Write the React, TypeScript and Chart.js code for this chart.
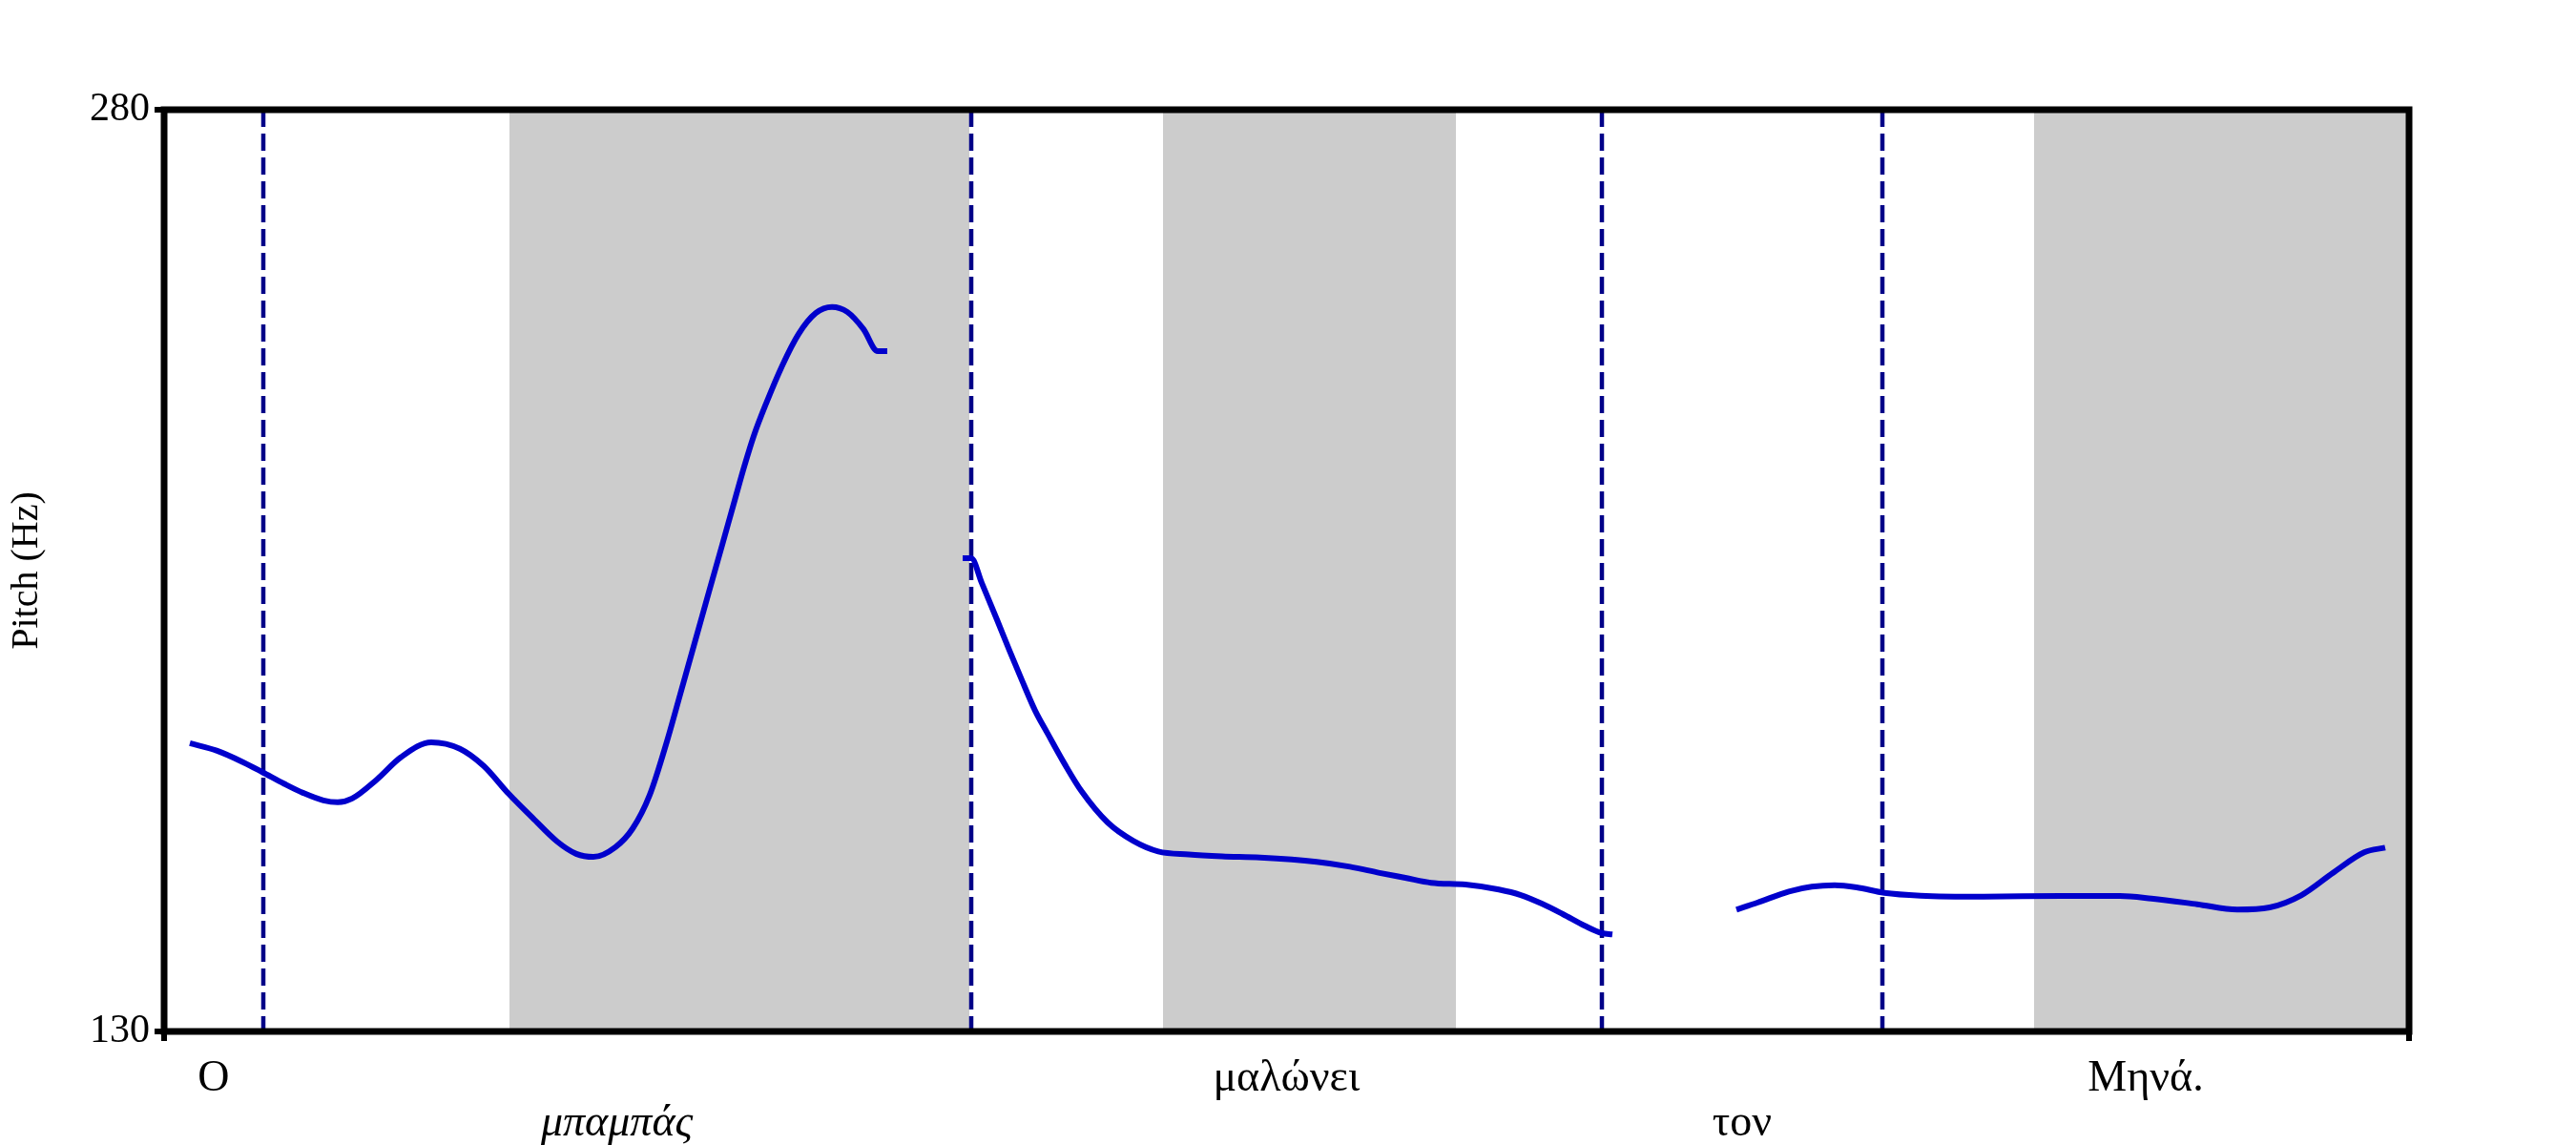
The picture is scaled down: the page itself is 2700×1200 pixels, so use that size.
import React, { useEffect, useRef } from "react";
import { Chart, registerables } from "chart.js";

Chart.register(...registerables);

// ---- data (time in seconds, pitch in Hz) ----
const timeMin = 0;
const timeMax = 2.353;
const pitchMin = 130;
const pitchMax = 280;
const yTickValues = [130, 280];

const seg1Times = [0.027, 0.055, 0.083, 0.103, 0.126, 0.146, 0.167, 0.182, 0.197, 0.223, 0.248, 0.28, 0.31, 0.335, 0.361, 0.386, 0.412, 0.432, 0.45, 0.473, 0.491, 0.509, 0.527, 0.541, 0.558, 0.571, 0.585, 0.598, 0.608, 0.618, 0.631, 0.648, 0.665, 0.683, 0.7, 0.716, 0.733, 0.748, 0.758];
const seg1Hz = [176.9, 175.7, 173.8, 172.2, 170.3, 168.8, 167.6, 167.3, 167.9, 171.0, 174.6, 177.05, 176.0, 173.2, 168.7, 164.8, 160.9, 158.9, 158.4, 160.0, 163.0, 168.5, 177.2, 184.9, 194.3, 201.5, 209.2, 216.4, 221.9, 226.9, 232.2, 238.4, 243.5, 246.9, 247.9, 247.1, 244.3, 240.7, 240.7];

const seg2Times = [0.837, 0.846, 0.857, 0.873, 0.886, 0.899, 0.913, 0.926, 0.944, 0.962, 0.989, 1.016, 1.042, 1.074, 1.109, 1.149, 1.208, 1.243, 1.274, 1.301, 1.328, 1.364, 1.399, 1.422, 1.444, 1.466, 1.489, 1.507, 1.518];
const seg2Hz = [207.0, 207.0, 203.0, 197.0, 192.0, 187.2, 182.2, 178.5, 173.5, 169.0, 164.0, 161.0, 159.3, 158.8, 158.5, 158.3, 157.6, 156.8, 155.8, 155.0, 154.2, 153.9, 153.1, 152.2, 150.8, 149.1, 147.2, 146.0, 145.8];

const seg3Times = [1.648, 1.67, 1.703, 1.727, 1.751, 1.774, 1.803, 1.841, 1.907, 1.988, 2.05, 2.083, 2.131, 2.173, 2.207, 2.24, 2.273, 2.306, 2.328];
const seg3Hz = [149.83, 150.96, 152.78, 153.56, 153.8, 153.45, 152.56, 152.1, 151.94, 152.05, 152.05, 151.63, 150.7, 149.83, 150.19, 152.16, 155.78, 159.15, 159.92];

const boundaryTimes = [0.1035, 0.8457, 1.507, 1.801];
const shadedStarts = [0.362, 1.047, 1.96];
const shadedEnds = [0.844, 1.354, 2.353];

const words = ["Ο", "μπαμπάς", "μαλώνει", "τον", "Μηνά."];
const wordStarts = [0, 0.1035, 0.8457, 1.507, 1.801];
const wordEnds = [0.1035, 0.8457, 1.507, 1.801, 2.353];
const wordItalic = [false, true, false, false, false];

const FONT = "'Liberation Serif', 'Times New Roman', serif";

function toPoints(t: number[], v: number[]) {
  return t.map((x, i) => ({ x, y: v[i] }));
}

const decorPlugin = {
  id: "praatDecor",
  beforeDatasetsDraw(chart: any) {
    const { ctx, chartArea: a, scales } = chart;
    const x = scales.x;
    ctx.save();
    ctx.fillStyle = "#cccccc";
    shadedStarts.forEach((s, i) => {
      const x0 = x.getPixelForValue(s);
      const x1 = x.getPixelForValue(shadedEnds[i]);
      ctx.fillRect(x0, a.top, x1 - x0, a.bottom - a.top);
    });
    ctx.strokeStyle = "#000088";
    ctx.lineWidth = 4.5;
    ctx.setLineDash([18, 7]);
    boundaryTimes.forEach((b) => {
      const px = Math.round(x.getPixelForValue(b));
      ctx.beginPath();
      ctx.moveTo(px, a.top);
      ctx.lineTo(px, a.bottom);
      ctx.stroke();
    });
    ctx.restore();
  },
  afterDraw(chart: any) {
    const { ctx, chartArea: a, scales } = chart;
    const x = scales.x;
    ctx.save();
    ctx.strokeStyle = "#000000";
    ctx.lineWidth = 7;
    ctx.setLineDash([]);
    ctx.strokeRect(a.left, a.top, a.right - a.left, a.bottom - a.top);
    ctx.fillStyle = "#000000";
    ctx.textAlign = "center";
    ctx.textBaseline = "alphabetic";
    words.forEach((w, i) => {
      const cx = x.getPixelForValue((wordStarts[i] + wordEnds[i]) / 2);
      ctx.font = (wordItalic[i] ? "italic " : "") + "46px " + FONT;
      const row = i % 2 === 0 ? 62 : 109;
      ctx.fillText(w, cx, a.bottom + row);
    });
    ctx.restore();
  },
};

export default function App() {
  const ref = useRef<HTMLCanvasElement | null>(null);

  useEffect(() => {
    document.body.style.margin = "0";
    const canvas = ref.current;
    if (!canvas) return;
    const lineStyle = {
      borderColor: "#0000cc",
      borderWidth: 6,
      pointRadius: 0,
      fill: false,
      cubicInterpolationMode: "monotone" as const,
    };
    const chart = new Chart(canvas, {
      type: "line",
      data: {
        datasets: [
          { data: toPoints(seg1Times, seg1Hz), ...lineStyle },
          { data: toPoints(seg2Times, seg2Hz), ...lineStyle },
          { data: toPoints(seg3Times, seg3Hz), ...lineStyle },
        ],
      },
      options: {
        animation: false,
        responsive: false,
        devicePixelRatio: 1,
        layout: { padding: { top: 115, right: 175, bottom: 109, left: 0 } },
        plugins: { legend: { display: false }, tooltip: { enabled: false } },
        scales: {
          x: {
            type: "linear",
            min: timeMin,
            max: timeMax,
            ticks: { display: false },
            border: { display: false },
            grid: {
              drawOnChartArea: false,
              drawTicks: true,
              tickLength: 10,
              tickWidth: 6,
              lineWidth: 6,
              color: "#000000",
            },
            afterBuildTicks: (s: any) => {
              s.ticks = [{ value: timeMin }, { value: timeMax }];
            },
            afterFit: (s: any) => {
              s.height = 10;
            },
          },
          y: {
            type: "linear",
            min: pitchMin,
            max: pitchMax,
            border: { display: false },
            grid: {
              drawOnChartArea: false,
              drawTicks: true,
              tickLength: 10,
              tickWidth: 6,
              lineWidth: 6,
              color: "#000000",
            },
            ticks: {
              color: "#000000",
              font: { family: FONT, size: 42 },
              padding: 5,
            },
            afterBuildTicks: (s: any) => {
              s.ticks = yTickValues.map((v) => ({ value: v }));
            },
            afterFit: (s: any) => {
              s.width = 172;
            },
            title: {
              display: true,
              text: "Pitch (Hz)",
              color: "#000000",
              font: { family: FONT, size: 40 },
              padding: { top: 4, bottom: 0 },
            },
          },
        },
      },
      plugins: [decorPlugin],
    });
    return () => chart.destroy();
  }, []);

  return (
    <div style={{ width: 2700, height: 1200, background: "#ffffff" }}>
      <canvas ref={ref} width={2700} height={1200} style={{ display: "block" }} />
    </div>
  );
}
